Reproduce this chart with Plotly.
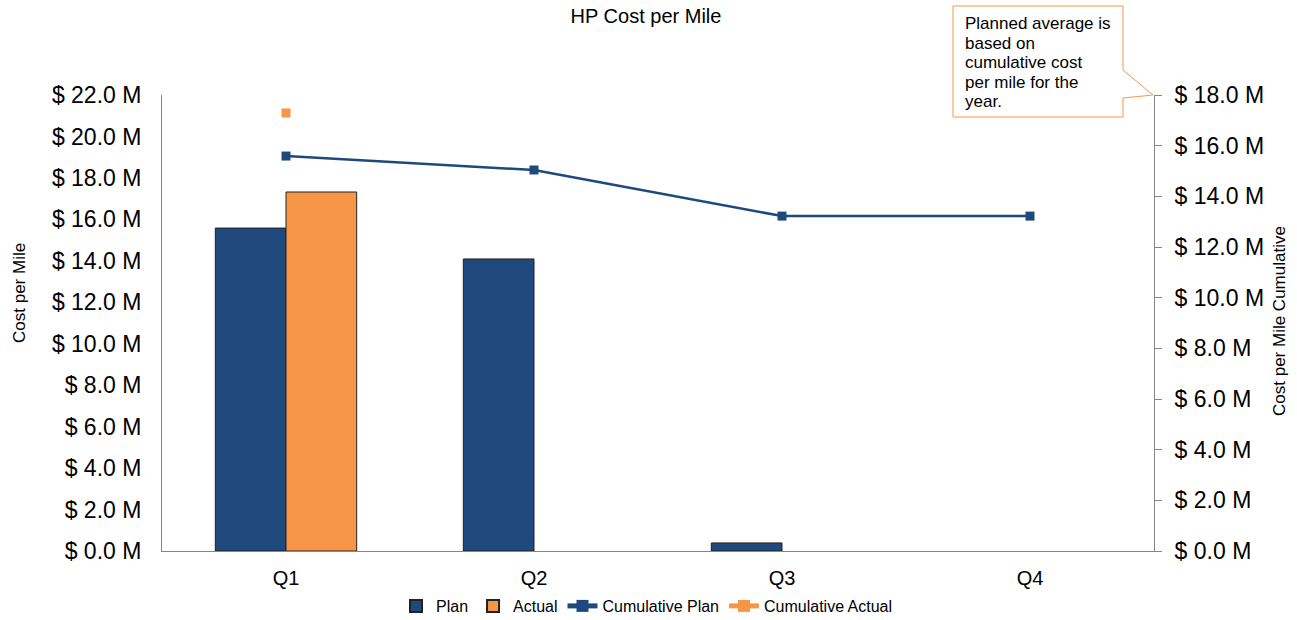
import plotly.graph_objects as go

quarters = ["Q1", "Q2", "Q3", "Q4"]
plan = [15.58, 14.09, 0.39, None]
actual = [17.32, None, None, None]
cum_plan = [15.59, 15.04, 13.22, 13.22]
cum_actual = [17.29, None, None, None]
left_ticks = [0, 2, 4, 6, 8, 10, 12, 14, 16, 18, 20, 22]
right_ticks = [0, 2, 4, 6, 8, 10, 12, 14, 16, 18]
note_lines = ["Planned average is", "based on", "cumulative cost", "per mile for the", "year."]

BLUE = "#1F497D"
ORANGE = "#F79646"
FONT = "Liberation Sans, Arial, sans-serif"

W, H = 1297, 620
L, R, T, B = 162, 1154, 95, 551

def money(v):
    return f"$ {v:.1f} M"

fig = go.Figure()
fig.add_trace(go.Bar(x=quarters, y=plan, name="Plan", marker=dict(color=BLUE, line=dict(color="#222222", width=1))))
fig.add_trace(go.Bar(x=quarters, y=actual, name="Actual", marker=dict(color=ORANGE, line=dict(color="#222222", width=1))))
fig.add_trace(go.Scatter(x=quarters, y=cum_plan, name="Cumulative Plan", yaxis="y2", mode="lines+markers",
                         line=dict(color=BLUE, width=2.5), marker=dict(symbol="square", size=9, color=BLUE)))
fig.add_trace(go.Scatter(x=quarters, y=cum_actual, name="Cumulative Actual", yaxis="y2", mode="lines+markers",
                         line=dict(color=ORANGE, width=2.5), marker=dict(symbol="square", size=9, color=ORANGE)))

def px(x):
    return (x - L) / (R - L)

def py(y):
    return (B - y) / (B - T)

# callout box with pointer
pts = [(953, 6), (1123, 6), (1123, 70), (1153, 95), (1123, 98), (1123, 117), (953, 117)]
path = "M " + " L ".join(f"{px(x):.5f},{py(y):.5f}" for x, y in pts) + " Z"
fig.add_shape(type="path", path=path, xref="paper", yref="paper",
              line=dict(color=ORANGE, width=1), fillcolor="white", layer="above")
for i, line in enumerate(note_lines):
    fig.add_annotation(x=px(963), y=py(23.5 + i * 19.6), xref="paper", yref="paper", xanchor="left",
                       yanchor="middle", align="left", showarrow=False, text=line,
                       font=dict(family=FONT, size=17, color="black"))

# axis titles
fig.add_annotation(x=px(19), y=py(293), xref="paper", yref="paper", textangle=-90, showarrow=False,
                   xanchor="center", yanchor="middle",
                   text="Cost per Mile", font=dict(family=FONT, size=17, color="black"))
fig.add_annotation(x=px(1279), y=py(321), xref="paper", yref="paper", textangle=-90, showarrow=False,
                   xanchor="center", yanchor="middle",
                   text="Cost per Mile Cumulative", font=dict(family=FONT, size=17, color="black"))

fig.update_layout(
    width=W, height=H,
    margin=dict(l=L, r=W - R, t=T, b=H - B, autoexpand=False),
    paper_bgcolor="white", plot_bgcolor="white",
    font=dict(family=FONT, color="black"),
    title=dict(text="HP Cost per Mile", x=646 / W, xanchor="center", y=1 - 16 / H, yanchor="middle",
               font=dict(family=FONT, size=20, color="black")),
    barmode="group", bargap=0.43, bargroupgap=0,
    showlegend=True,
    legend=dict(orientation="h", x=px(647), xanchor="center", y=-(606 - B) / (B - T), yanchor="middle",
                font=dict(family=FONT, size=16, color="black"), itemsizing="constant", tracegroupgap=0),
    xaxis=dict(showline=True, linecolor="#868686", linewidth=1, ticks="", tickfont=dict(family=FONT, size=20),
               showgrid=False, zeroline=False, automargin=False, ticklabelstandoff=9),
    yaxis=dict(range=[0, 22], tickvals=left_ticks, ticktext=[money(v) for v in left_ticks],
               showline=True, linecolor="#868686", linewidth=1, showgrid=False, zeroline=False,
               tickfont=dict(family=FONT, size=23), ticks="", automargin=False, ticklabelstandoff=15),
    yaxis2=dict(range=[0, 18], tickvals=right_ticks, ticktext=[money(v) for v in right_ticks],
                overlaying="y", side="right", showline=True, linecolor="#868686", linewidth=1,
                showgrid=False, zeroline=False, ticks="outside", ticklen=7, tickcolor="#868686",
                tickfont=dict(family=FONT, size=23), automargin=False, ticklabelstandoff=8),
)

fig.write_html("out.html", config={"displayModeBar": False},
               post_script="document.body.style.margin='0';")
